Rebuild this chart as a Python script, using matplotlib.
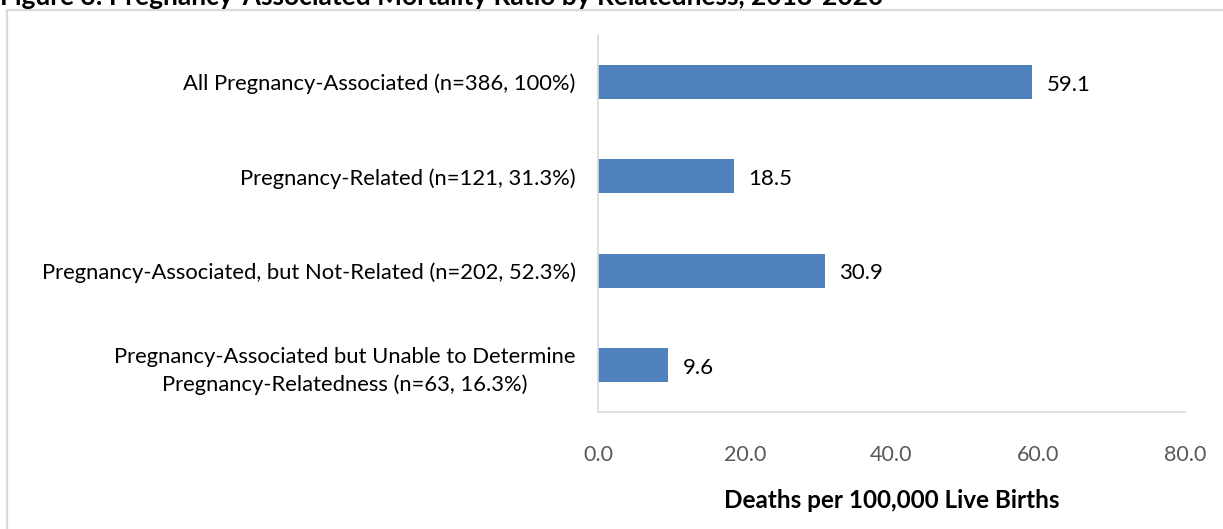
import numpy as np
import matplotlib
matplotlib.use('Agg')
from matplotlib import pyplot as plt
from matplotlib.patches import Rectangle

plt.rcParams['font.family'] = ['Lato', 'DejaVu Sans']

categories = ['All Pregnancy-Associated (n=386, 100%)',
              'Pregnancy-Related (n=121, 31.3%)',
              'Pregnancy-Associated, but Not-Related (n=202, 52.3%)',
              'Pregnancy-Associated but Unable to Determine\nPregnancy-Relatedness (n=63, 16.3%)']
ratios = [59.1, 18.5, 30.9, 9.6]
xticks = [0.0, 20.0, 40.0, 60.0, 80.0]

fig = plt.figure(figsize=(12.23, 5.29), dpi=100)
ax = fig.add_axes([598 / 1223, 1 - 412 / 529, 587 / 1223, 377 / 529])

# outer chart frame (only left/top visible in the crop)
fig.patches.append(Rectangle((7 / 1223, -0.1), 1.2, 1 - 9.5 / 529 + 0.1, transform=fig.transFigure,
                             fill=False, edgecolor='#d9d9d9', linewidth=1.6, zorder=0))

# title, cut off by the top edge as in the source image
fig.text(0.0, 1 - 5 / 529, 'Figure 3: Pregnancy-Associated Mortality Ratio by Relatedness, 2018-2020',
         fontsize=19, fontweight='bold', va='baseline', ha='left')

y = np.arange(len(categories))
ax.barh(y, ratios, height=0.36, color='#4f81bd')
for yi, v in zip(y, ratios):
    ax.text(v + 2.0, yi + 0.03, '%.1f' % v, va='center', ha='left', fontsize=16, color='black')

ax.set_ylim(len(categories) - 0.5, -0.5)
ax.set_xlim(0, 80)
ax.set_yticks(y)
ax.set_yticklabels(categories, fontsize=15.8, color='black', ha='right', multialignment='center',
                   linespacing=1.45)
ax.set_xticks(xticks)
ax.set_xticklabels(['%.1f' % t for t in xticks], fontsize=15.5, color='#595959')
ax.tick_params(axis='both', length=0)
ax.tick_params(axis='x', pad=24)
ax.tick_params(axis='y', pad=16)

for s in ['top', 'right']:
    ax.spines[s].set_visible(False)
ax.spines['left'].set_color('#d9d9d9')
ax.spines['bottom'].set_color('#d9d9d9')
ax.spines['left'].set_linewidth(1.2)
ax.spines['bottom'].set_linewidth(1.2)

ax.set_xlabel('Deaths per 100,000 Live Births', fontsize=17.5, fontweight='bold', labelpad=17)

fig.savefig('out.png', dpi=100)
